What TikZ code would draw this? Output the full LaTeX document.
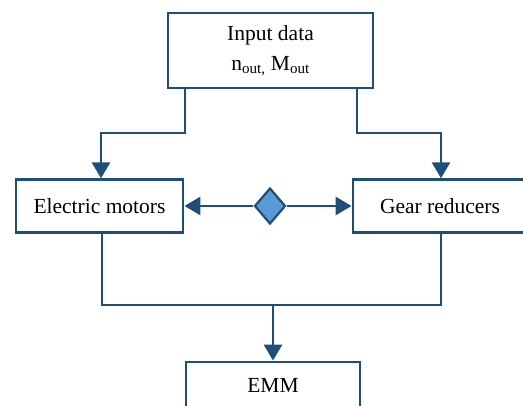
\documentclass[tikz,border=0pt]{standalone}
\usepackage{fontspec}
\setmainfont{Liberation Serif}
\newfontfamily\tnr{Liberation Serif}
\usetikzlibrary{arrows.meta,shapes.geometric}
\definecolor{lineblue}{HTML}{1F4E79}
\definecolor{diafill}{HTML}{5B9BD5}
\begin{document}
\begin{tikzpicture}[x=1pt,y=1pt,
  box/.style={draw=lineblue,line width=2.8pt,rectangle,inner sep=0pt,fill=white,
    font=\tnr\fontsize{21.5}{30}\selectfont,align=center},
  arr/.style={draw=lineblue,line width=2.8pt,-{Triangle[length=16pt,width=18pt]}},
  thinline/.style={draw=lineblue,line width=2pt}]
\useasboundingbox (0,0) rectangle (523,406);
\clip (0,0) rectangle (523,406);
\node[box,minimum width=205pt,minimum height=75pt] (top) at (270.5,355.5)
  {Input data\\ n\textsubscript{out,} M\textsubscript{out}};
\node[box,minimum width=167pt,minimum height=52.5pt] (em) at (99.5,200) {Electric motors};
\node[box,minimum width=174pt,minimum height=52.5pt] (gr) at (440,200) {Gear reducers};
\node[draw=lineblue,line width=2.2pt,fill=diafill,diamond,inner sep=0pt,
  minimum width=31pt,minimum height=36pt] (dia) at (270,200) {};
\node[box,minimum width=174pt,minimum height=60pt] (emm) at (273,14) {};
\node[font=\tnr\fontsize{21.5}{30}\selectfont] (emmtext) at (273,21) {EMM};
\coordinate (l1) at (185,273);
\coordinate (l2) at (101,273);
\coordinate (r1) at (357,273);
\coordinate (r2) at (441,273);
\coordinate (b1) at (102,101);
\coordinate (b2) at (441,101);
\coordinate (bm) at (273,101);
\draw[arr] (top.south -| l1) -- (l1) -- (l2) -- (em.north -| l2);
\draw[arr] (top.south -| r1) -- (r1) -- (r2) -- (gr.north -| r2);
\draw[arr] (dia.west) -- (em.east);
\draw[arr] (dia.east) -- (gr.west);
\draw[thinline] (em.south -| b1) -- (b1) -- (b2) -- (gr.south -| b2);
\draw[arr] (bm) -- (emm.north);
\end{tikzpicture}
\end{document}
